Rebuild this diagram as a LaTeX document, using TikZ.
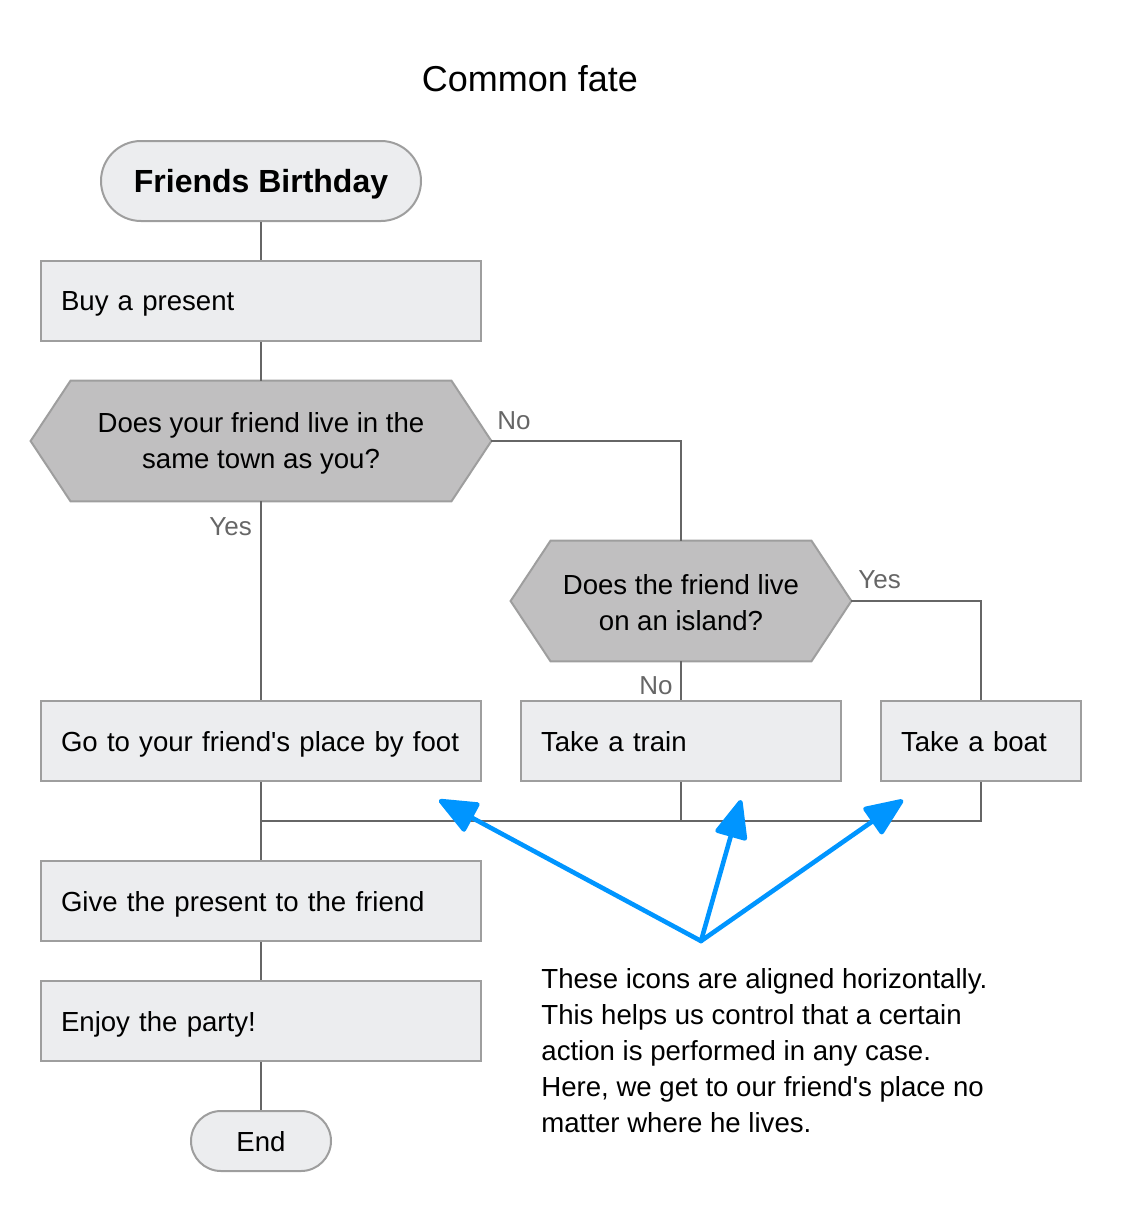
\documentclass[tikz,border=0pt]{standalone}
\usepackage{fontspec}
\setmainfont{Liberation Sans}
\usetikzlibrary{shapes,arrows.meta,backgrounds,positioning}

\definecolor{boxfill}{RGB}{236,237,239}
\definecolor{boxline}{RGB}{158,158,158}
\definecolor{hexfill}{RGB}{192,191,192}
\definecolor{wire}{RGB}{102,102,102}
\definecolor{noteblue}{RGB}{0,149,255}

\tikzset{
	stepbox/.style={draw=boxline, fill=boxfill, line width=1pt, minimum height=40pt,
		inner xsep=10pt, inner ysep=0pt, text depth=0pt, align=left, font=\fontsize{13.8pt}{18pt}\selectfont},
	terminal/.style={draw=boxline, fill=boxfill, line width=1pt, rounded corners=20pt, text depth=0pt,
		minimum width=160pt, minimum height=40pt, font=\bfseries\fontsize{16pt}{18pt}\selectfont},
	question/.style={minimum height=60pt, inner sep=0pt, align=center,
		font=\fontsize{13.8pt}{18pt}\selectfont},
	hexline/.style={draw=boxline, fill=hexfill, line width=1pt},
	wireline/.style={draw=wire, line width=1pt},
	lbl/.style={text=wire, inner sep=0pt, anchor=base west, font=\fontsize{13pt}{15pt}\selectfont},
	note/.style={draw=noteblue, line width=2.3pt, line join=round, line cap=round,
		-{Triangle[length=21pt,width=17pt,round]}}
}

\begin{document}
\begin{tikzpicture}[x=0.5pt,y=-0.5pt]

	%Page frame, in pixels of the reference
	\useasboundingbox (0,0) rectangle (1120,1220);

	\node[anchor=base, font=\fontsize{18pt}{20pt}\selectfont] (title) at (530,92) {Common fate};

	%Main column
	\node[terminal] (start) at (261,181) {Friends Birthday};
	\node[stepbox, text width=200pt] (buy) at (261,301) {Buy a present};
	\node[question, minimum width=230pt] (town) at (261,443) {Does your friend live in the\\same town as you?};
	\node[stepbox, text width=200pt] (foot) at (261,741) {\mbox{Go to your friend\textquotesingle s place by foot}};
	\node[stepbox, text width=200pt] (give) at (261,901) {Give the present to the friend};
	\node[stepbox, text width=200pt] (party) at (261,1021) {Enjoy the party!};
	\node[terminal, rounded corners=15pt, minimum width=70pt, minimum height=30pt,
		font=\fontsize{13.8pt}{18pt}\selectfont] (stop) at (261,1141) {End};

	%Side branch
	\node[question, minimum width=170pt] (island) at (681,603) {Does the friend live\\on an island?};
	\node[stepbox, text width=140pt] (train) at (681,741) {Take a train};
	\node[stepbox, text width=80pt] (boat) at (981,741) {Take a boat};

	%Hexagons behind the questions (text sits 1pt low in its box)
	\begin{scope}[on background layer]
		\foreach \q in {town,island}{
			\draw[hexline] ([yshift=1pt]\q.west) -- ([xshift=20pt,yshift=1pt]\q.north west) -- ([xshift=-20pt,yshift=1pt]\q.north east)
				-- ([yshift=1pt]\q.east) -- ([xshift=-20pt,yshift=1pt]\q.south east) -- ([xshift=20pt,yshift=1pt]\q.south west) -- cycle;
		}
	\end{scope}

	%Connectors
	\coordinate (merge) at (261,821);
	\coordinate (townr) at (491,441);
	\coordinate (islandr) at (851,601);
	\draw[wireline] (start.south) -- (buy.north);
	\draw[wireline] (buy.south) -- ([yshift=1pt]town.north);
	\draw[wireline] (townr) -| ([yshift=1pt]island.north);
	\draw[wireline] ([yshift=1pt]town.south) -- (foot.north);
	\draw[wireline] (islandr) -| (boat.north);
	\draw[wireline] ([yshift=1pt]island.south) -- (train.north);
	\draw[wireline] (foot.south) -- (merge) -- (give.north);
	\draw[wireline] (train.south) |- (merge);
	\draw[wireline] (boat.south) |- (merge);
	\draw[wireline] (give.south) -- (party.north);
	\draw[wireline] (party.south) -- (stop.north);

	\node[lbl] (no1) at (497,429) {No};
	\node[lbl] (yes1) at (209,535) {Yes};
	\node[lbl] (yes2) at (858,588) {Yes};
	\node[lbl] (no2) at (639,694) {No};

	%Annotation and its arrows
	\node[anchor=north west, inner sep=0pt, align=left, font=\fontsize{13.8pt}{18pt}\selectfont] (remark) at (541,968)
		{These icons are aligned horizontally.\\This helps us control that a certain\\action is performed in any case.\\Here, we get to our friend\textquotesingle s place no\\matter where he lives.};
	\coordinate (fan) at (701,941);
	\coordinate (hd1) at (439,800);
	\coordinate (hd2) at (741,800);
	\coordinate (hd3) at (903,800);
	\draw[note] (fan) -- (hd1);
	\draw[note] (fan) -- (hd2);
	\draw[note] (fan) -- (hd3);

\end{tikzpicture}
\end{document}
